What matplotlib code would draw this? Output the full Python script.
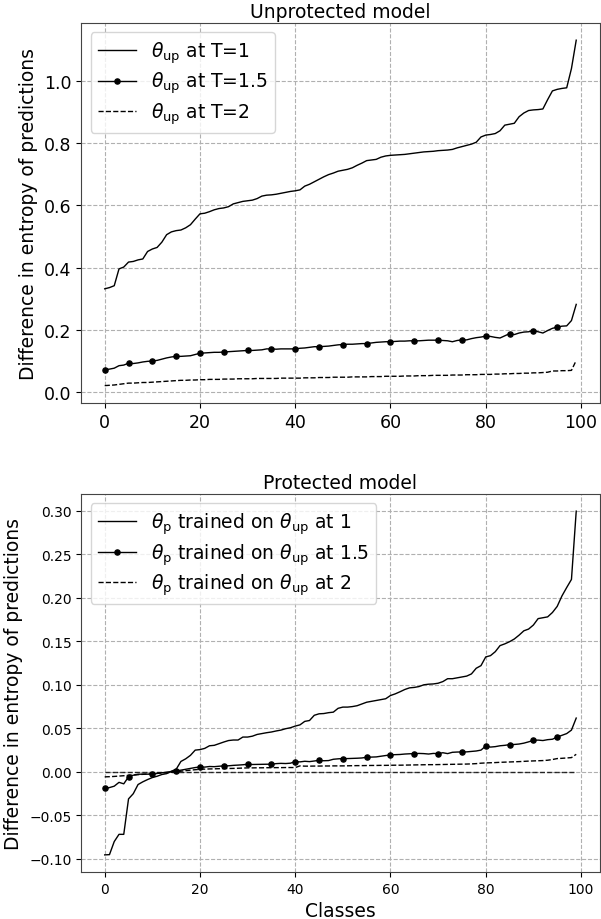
import matplotlib.pyplot as plt
import numpy as np

classes = np.arange(100)

# Unprotected model, entropy difference per class (sorted)
up_t1 = [0.332, 0.336, 0.342, 0.396, 0.402, 0.418, 0.420, 0.425, 0.428, 0.452,
         0.460, 0.465, 0.482, 0.506, 0.515, 0.519, 0.521, 0.528, 0.538, 0.556,
         0.573, 0.575, 0.580, 0.586, 0.590, 0.592, 0.596, 0.605, 0.609, 0.613,
         0.615, 0.617, 0.622, 0.630, 0.633, 0.634, 0.636, 0.639, 0.642, 0.645,
         0.647, 0.650, 0.662, 0.668, 0.676, 0.684, 0.692, 0.699, 0.704, 0.710,
         0.713, 0.716, 0.721, 0.729, 0.736, 0.744, 0.746, 0.748, 0.755, 0.759,
         0.761, 0.762, 0.763, 0.764, 0.766, 0.768, 0.770, 0.772, 0.773, 0.774,
         0.776, 0.777, 0.778, 0.780, 0.785, 0.789, 0.793, 0.797, 0.803, 0.820,
         0.826, 0.828, 0.831, 0.840, 0.858, 0.861, 0.864, 0.885, 0.897, 0.905,
         0.907, 0.908, 0.910, 0.940, 0.968, 0.973, 0.976, 0.978, 1.040, 1.131]
up_t15 = [0.072, 0.074, 0.077, 0.085, 0.087, 0.093, 0.092, 0.094, 0.097, 0.099,
          0.100, 0.102, 0.106, 0.110, 0.113, 0.115, 0.115, 0.116, 0.117, 0.121,
          0.125, 0.126, 0.127, 0.128, 0.128, 0.129, 0.130, 0.131, 0.132, 0.133,
          0.134, 0.134, 0.135, 0.136, 0.139, 0.139, 0.138, 0.139, 0.139, 0.139,
          0.139, 0.141, 0.142, 0.144, 0.146, 0.146, 0.147, 0.148, 0.150, 0.152,
          0.153, 0.154, 0.154, 0.155, 0.156, 0.156, 0.158, 0.160, 0.161, 0.162,
          0.162, 0.163, 0.164, 0.164, 0.165, 0.165, 0.165, 0.166, 0.167, 0.167,
          0.167, 0.166, 0.165, 0.162, 0.166, 0.168, 0.168, 0.172, 0.175, 0.177,
          0.180, 0.179, 0.176, 0.174, 0.181, 0.188, 0.185, 0.190, 0.193, 0.194,
          0.198, 0.194, 0.190, 0.198, 0.205, 0.209, 0.212, 0.213, 0.230, 0.282]
up_t2 = [0.021, 0.022, 0.023, 0.025, 0.027, 0.029, 0.029, 0.030, 0.031, 0.031,
         0.032, 0.033, 0.034, 0.035, 0.036, 0.037, 0.038, 0.038, 0.039, 0.039,
         0.040, 0.040, 0.041, 0.041, 0.041, 0.042, 0.042, 0.042, 0.043, 0.043,
         0.043, 0.043, 0.044, 0.044, 0.044, 0.044, 0.044, 0.045, 0.045, 0.045,
         0.045, 0.045, 0.046, 0.046, 0.046, 0.047, 0.047, 0.047, 0.048, 0.048,
         0.048, 0.048, 0.049, 0.049, 0.049, 0.049, 0.050, 0.050, 0.050, 0.051,
         0.051, 0.051, 0.051, 0.052, 0.052, 0.052, 0.053, 0.053, 0.053, 0.054,
         0.054, 0.054, 0.054, 0.055, 0.055, 0.055, 0.056, 0.056, 0.056, 0.057,
         0.057, 0.057, 0.058, 0.058, 0.059, 0.059, 0.060, 0.060, 0.061, 0.061,
         0.062, 0.062, 0.063, 0.064, 0.068, 0.068, 0.069, 0.069, 0.070, 0.102]

# Protected model
p_t1 = [-0.0953, -0.0950, -0.0800, -0.0717, -0.0717, -0.0310, -0.0250, -0.0145, -0.0114, -0.0088,
        -0.0065, -0.0050, -0.0030, -0.0020, 0.0008, 0.0030, 0.0120, 0.0150, 0.0190, 0.0250,
        0.0256, 0.0270, 0.0300, 0.0305, 0.0324, 0.0343, 0.0360, 0.0366, 0.0366, 0.0400,
        0.0400, 0.0410, 0.0430, 0.0440, 0.0450, 0.0458, 0.0470, 0.0480, 0.0496, 0.0507,
        0.0526, 0.0540, 0.0580, 0.0590, 0.0650, 0.0667, 0.0670, 0.0680, 0.0686, 0.0730,
        0.0744, 0.0744, 0.0750, 0.0760, 0.0780, 0.0800, 0.0810, 0.0820, 0.0830, 0.0840,
        0.0877, 0.0896, 0.0920, 0.0946, 0.0965, 0.0970, 0.0980, 0.1000, 0.1007, 0.1010,
        0.1018, 0.1037, 0.1070, 0.1070, 0.1080, 0.1090, 0.1100, 0.1125, 0.1190, 0.1220,
        0.1320, 0.1335, 0.1380, 0.1450, 0.1470, 0.1495, 0.1526, 0.1570, 0.1620, 0.1640,
        0.1686, 0.1760, 0.1770, 0.1780, 0.1830, 0.1900, 0.2020, 0.2117, 0.2210, 0.2994]
p_t15 = [-0.0190, -0.0180, -0.0164, -0.0120, -0.0137, -0.0057, -0.0038, -0.0027, -0.0026, -0.0026,
         -0.0027, -0.0018, -0.0010, -0.0004, 0.0004, 0.0011, 0.0020, 0.0030, 0.0040, 0.0050,
         0.0057, 0.0055, 0.0062, 0.0060, 0.0065, 0.0069, 0.0070, 0.0075, 0.0078, 0.0082,
         0.0088, 0.0085, 0.0086, 0.0087, 0.0088, 0.0088, 0.0095, 0.0098, 0.0096, 0.0100,
         0.0118, 0.0115, 0.0122, 0.0118, 0.0125, 0.0133, 0.0128, 0.0130, 0.0145, 0.0150,
         0.0153, 0.0153, 0.0155, 0.0157, 0.0160, 0.0168, 0.0170, 0.0172, 0.0180, 0.0188,
         0.0195, 0.0198, 0.0200, 0.0205, 0.0208, 0.0210, 0.0212, 0.0210, 0.0205, 0.0212,
         0.0210, 0.0220, 0.0210, 0.0225, 0.0228, 0.0229, 0.0230, 0.0235, 0.0240, 0.0250,
         0.0297, 0.0285, 0.0290, 0.0300, 0.0305, 0.0313, 0.0315, 0.0320, 0.0330, 0.0345,
         0.0362, 0.0365, 0.0360, 0.0370, 0.0375, 0.0400, 0.0420, 0.0440, 0.0480, 0.0618]
p_t2 = [-0.0057, -0.0055, -0.0052, -0.0048, -0.0044, -0.0040, -0.0036, -0.0032, -0.0028, -0.0024,
        -0.0020, -0.0016, -0.0012, -0.0008, -0.0004, 0.0000, 0.0008, 0.0014, 0.0020, 0.0025,
        0.0030, 0.0032, 0.0034, 0.0035, 0.0037, 0.0038, 0.0039, 0.0040, 0.0042, 0.0044,
        0.0046, 0.0046, 0.0047, 0.0047, 0.0048, 0.0048, 0.0049, 0.0049, 0.0050, 0.0050,
        0.0050, 0.0069, 0.0066, 0.0066, 0.0067, 0.0067, 0.0068, 0.0068, 0.0069, 0.0069,
        0.0069, 0.0070, 0.0071, 0.0072, 0.0072, 0.0073, 0.0074, 0.0074, 0.0075, 0.0075,
        0.0076, 0.0077, 0.0077, 0.0078, 0.0079, 0.0080, 0.0081, 0.0082, 0.0083, 0.0083,
        0.0084, 0.0085, 0.0086, 0.0087, 0.0088, 0.0089, 0.0090, 0.0092, 0.0095, 0.0100,
        0.0103, 0.0105, 0.0107, 0.0110, 0.0112, 0.0114, 0.0116, 0.0118, 0.0121, 0.0124,
        0.0126, 0.0128, 0.0130, 0.0134, 0.0142, 0.0153, 0.0156, 0.0160, 0.0164, 0.0202]
baseline = np.zeros(100)

fig = plt.figure(figsize=(6.01, 9.2), dpi=100)
ax1 = fig.add_axes([0.135, 0.561, 0.863, 0.413])
ax2 = fig.add_axes([0.135, 0.051, 0.863, 0.411])

ax1.plot(classes, up_t1, 'k-', lw=1, label=r'$\theta_{\mathrm{up}}$ at T=1')
ax1.plot(classes, up_t15, 'k-', lw=1, marker='o', markersize=3.7, markevery=5,
         label=r'$\theta_{\mathrm{up}}$ at T=1.5')
ax1.plot(classes, up_t2, 'k--', lw=1, label=r'$\theta_{\mathrm{up}}$ at T=2')
ax1.set_title('Unprotected model', fontsize=13.5, pad=4)
ax1.set_ylabel('Difference in entropy of predictions', fontsize=13.5)
ax1.tick_params(labelsize=12.5)
ax1.legend(loc='upper left', fontsize=13.5, labelspacing=0.25)

ax2.plot(classes, p_t1, 'k-', lw=1,
         label=r'$\theta_{\mathrm{p}}$ trained on $\theta_{\mathrm{up}}$ at 1')
ax2.plot(classes, p_t15, 'k-', lw=1, marker='o', markersize=3.7, markevery=5,
         label=r'$\theta_{\mathrm{p}}$ trained on $\theta_{\mathrm{up}}$ at 1.5')
ax2.plot(classes, p_t2, 'k--', lw=1,
         label=r'$\theta_{\mathrm{p}}$ trained on $\theta_{\mathrm{up}}$ at 2')
ax2.plot(classes, baseline, 'k--', lw=1, alpha=0.8)
ax2.set_title('Protected model', fontsize=13.5, pad=4)
ax2.set_ylabel('Difference in entropy of predictions', fontsize=13.5)
ax2.set_xlabel('Classes', fontsize=13.5)
ax2.tick_params(labelsize=10)
ax2.legend(loc='upper left', fontsize=13.5, labelspacing=0.25)

for ax in (ax1, ax2):
    ax.grid(True, linestyle='--', color='#b0b0b0', lw=0.8)
    for s in ax.spines.values():
        s.set_color('#444444')

plt.savefig('out.png')
